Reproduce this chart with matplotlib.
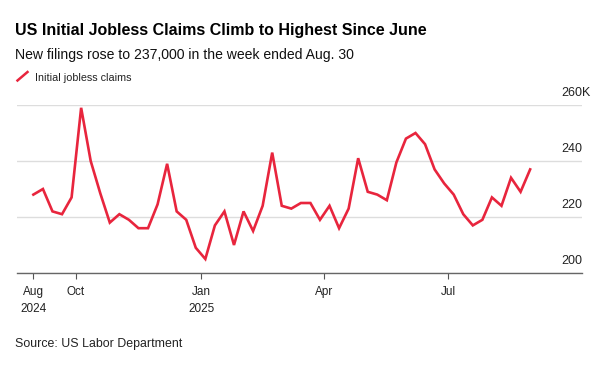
import matplotlib
matplotlib.use("Agg")
import matplotlib.pyplot as plt
import matplotlib.transforms as mtransforms
from matplotlib.lines import Line2D
import datetime as dt

plt.rcParams['font.family'] = ['Liberation Sans', 'DejaVu Sans']

# weekly initial jobless claims (thousands), week ending Aug 31 2024 .. Aug 30 2025
claims = [228, 230, 222, 221, 227, 259, 240, 228.5, 218, 221, 219, 216, 216, 224.5, 239,
          222, 219, 209, 205, 217, 222, 210, 222, 215, 224, 243, 224, 223, 225, 225,
          219, 224, 216, 223, 241, 229, 228, 226, 239.5, 248, 250, 246, 237, 232,
          228, 221, 217, 219, 227, 224, 234, 229, 237]
start = dt.date(2024, 8, 31)
weeks = [start + dt.timedelta(days=7 * i) for i in range(len(claims))]

tick_dates = [dt.date(2024, 8, 31), dt.date(2024, 10, 1), dt.date(2025, 1, 1),
              dt.date(2025, 4, 1), dt.date(2025, 7, 1)]
tick_labels = ["Aug\n2024", "Oct", "Jan\n2025", "Apr", "Jul"]
y_ticks = [200, 220, 240, 260]
y_labels = ["200", "220", "240", "260"]

red = '#e8253d'

fig = plt.figure(figsize=(6.13, 3.67), dpi=100)
W, H = 613, 367
ax = fig.add_axes([17 / W, 1 - 273 / H, (582 - 17) / W, (273 - 105) / H])

ax.plot(weeks, claims, color=red, lw=1.9, solid_joinstyle='miter', clip_on=False)

ax.set_xlim(dt.date(2024, 8, 19), dt.date(2025, 10, 7))
ax.set_ylim(200, 260)

ax.set_yticks(y_ticks)
ax.tick_params(axis='y', length=0, labelleft=False, labelright=False)
ax.grid(axis='y', color='#dddddd', lw=1)
ax.set_axisbelow(True)

ax.set_xticks(tick_dates)
ax.set_xticklabels(tick_labels)
ax.tick_params(axis='x', length=4, width=0.8, color='#555555', pad=5.5,
               labelsize=8.5, labelcolor='#222222')
for lab in ax.get_xticklabels():
    lab.set_linespacing(1.5)
    lab.set_verticalalignment('top')

for s in ['top', 'left', 'right']:
    ax.spines[s].set_visible(False)
ax.spines['bottom'].set_color('#666666')
ax.spines['bottom'].set_linewidth(1.0)

trans = mtransforms.blended_transform_factory(ax.transAxes, ax.transData)
trans = mtransforms.offset_copy(trans, fig=fig, x=0, y=6, units='dots')
for v, lab in zip(y_ticks, y_labels):
    ax.text(1.0, v, lab, transform=trans, ha='right', va='bottom',
            fontsize=9, color='#222222')
ax.text(1.0, 260, "K", transform=trans, ha='left', va='bottom',
        fontsize=9, color='#222222')

fig.text(15 / W, 1 - 35 / H, "US Initial Jobless Claims Climb to Highest Since June",
         fontsize=11.5, fontweight='bold', color='#000000', va='baseline')
fig.text(15 / W, 1 - 59.5 / H, "New filings rose to 237,000 in the week ended Aug. 30",
         fontsize=10.05, color='#111111', va='baseline')
fig.add_artist(Line2D([17.5 / W, 27.5 / W], [1 - 80.5 / H, 1 - 72 / H],
                      color=red, lw=1.8, transform=fig.transFigure))
fig.text(35 / W, 1 - 81 / H, "Initial jobless claims", fontsize=7.75,
         color='#222222', va='baseline')
fig.text(15 / W, 1 - 347.5 / H, "Source: US Labor Department", fontsize=8.9,
         color='#222222', va='baseline')

fig.savefig("out.png", dpi=100)
